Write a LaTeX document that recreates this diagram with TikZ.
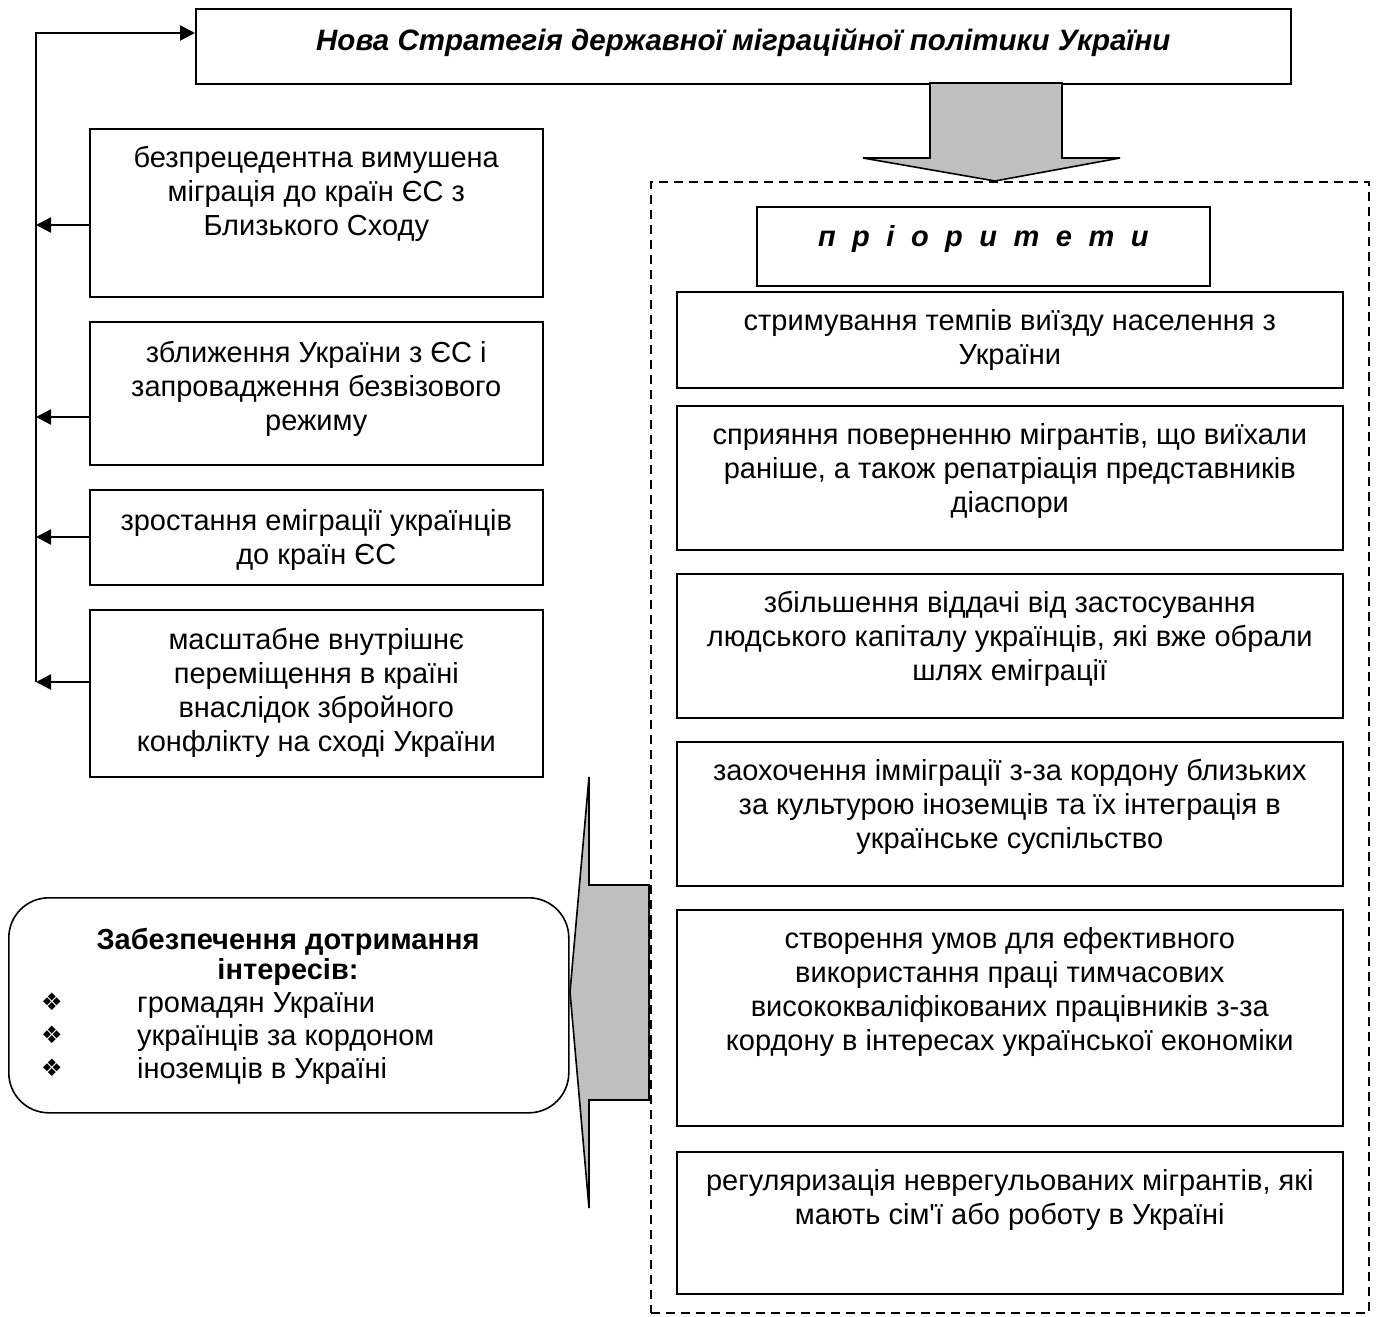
\documentclass[tikz,border=0pt]{standalone}
\usepackage{fontspec}
\setmainfont{Liberation Sans}[Ligatures=TeXOff]
\newfontfamily\symfont{DejaVu Sans}
\usetikzlibrary{arrows.meta}
\newcommand\mybx[4]{\parbox[t][#2][t]{#1}{\centering\rule{0pt}{#3}#4}}
\newcommand\spc{\hspace{16.5pt}}
\begin{document}
\begin{tikzpicture}[x=1pt,y=-1pt,
  box/.style={draw, line width=1.6pt, inner sep=0pt, anchor=north west, font=\fontsize{29}{34}\selectfont},
  arr/.style={line width=2.4pt, -{Triangle[length=15pt,width=15pt]}},
  fat/.style={draw, line width=1.6pt, fill=black!25, line join=miter},
  txt/.style={inner sep=0pt, font=\fontsize{29}{34}\selectfont},
  bul/.style={inner sep=0pt, font=\symfont\fontsize{24}{26}\selectfont},
]
\useasboundingbox (0,0) rectangle (1377,1317);

% top box
\node[box] (top) at (195,8) {\mybx{1095pt}{75pt}{42pt}{\fontsize{29.5}{34}\selectfont\textbf{\textit{Нова Стратегія державної міграційної політики України}}}};

% left boxes
\node[box] (l1) at (89,128) {\mybx{453pt}{168pt}{39pt}{безпрецедентна вимушена\\ міграція до країн ЄС з\\ Близького Сходу}};
\node[box] (l2) at (89,321) {\mybx{453pt}{143pt}{41pt}{зближення України з ЄС і\\ запровадження безвізового\\ режиму}};
\node[box] (l3) at (89,489) {\mybx{453pt}{95pt}{41pt}{зростання еміграції українців\\ до країн ЄС}};
\node[box] (l4) at (89,609) {\mybx{453pt}{167pt}{40pt}{масштабне внутрішнє\\ переміщення в країні\\ внаслідок збройного\\ конфлікту на сході України}};

% spine and arrows
\coordinate (spT) at (36,33);
\coordinate (a1) at (36,225);
\coordinate (a2) at (36,417);
\coordinate (a3) at (36,537);
\coordinate (a4) at (36,682);
\draw[arr] (a4) -- (spT) -- (spT -| top.west);
\draw[arr] (a1 -| l1.west) -- (a1);
\draw[arr] (a2 -| l2.west) -- (a2);
\draw[arr] (a3 -| l3.west) -- (a3);
\draw[arr] (a4 -| l4.west) -- (a4);

% dashed frame
\node[draw, dashed, dash pattern=on 9pt off 6pt, line width=1.5pt, inner sep=0pt, minimum width=718pt, minimum height=1131pt, anchor=north west] (frame) at (650,181) {};

% down fat arrow
\draw[fat] (930,83) -- (930,158) -- (863,158) -- (995,181) -- (1120,158) -- (1062,158) -- (1062,83) -- cycle;

% priorities
\node[box] (pr) at (756,206) {\mybx{453pt}{79pt}{40pt}{\textbf{\textit{п\spc р\spc і\spc о\spc р\spc и\spc т\spc е\spc т\spc и}}}};
\node[box] (r1) at (676,291) {\mybx{666pt}{96pt}{39pt}{стримування темпів виїзду населення з\\ України}};
\node[box] (r2) at (676,405) {\mybx{666pt}{144pt}{39pt}{сприяння поверненню мігрантів, що виїхали\\ раніше, а також репатріація представників\\ діаспори}};
\node[box] (r3) at (676,573) {\mybx{666pt}{144pt}{39pt}{збільшення віддачі від застосування\\ людського капіталу українців, які вже обрали\\ шлях еміграції}};
\node[box] (r4) at (676,741) {\mybx{666pt}{144pt}{39pt}{заохочення імміграції з-за кордону близьких\\ за культурою іноземців та їх інтеграція в\\ українське суспільство}};
\node[box] (r5) at (676,909) {\mybx{666pt}{216pt}{39pt}{створення умов для ефективного\\ використання праці тимчасових\\ висококваліфікованих працівників з-за\\ кордону в інтересах української економіки}};
\node[box] (r6) at (676,1151) {\mybx{666pt}{142pt}{39pt}{регуляризація неврегульованих мігрантів, які\\ мають сім'ї або роботу в Україні}};

% left fat arrow
\draw[fat] (649,885) -- (589,885) -- (589,777) -- (570,992) -- (589,1208) -- (589,1100) -- (649,1100) -- cycle;

% rounded goal box
\node[draw, line width=1.6pt, rounded corners=40pt, inner sep=0pt, minimum width=560pt, minimum height=215pt, anchor=north west] (goal) at (8,897) {};
\node[txt, anchor=base] (g1) at (288,949) {\textbf{Забезпечення дотримання}};
\node[txt, anchor=base] (g2) at (288,979) {\textbf{інтересів:}};
\node[bul] (b1) at (52,1002) {❖};
\node[bul] (b2) at (52,1035) {❖};
\node[bul] (b3) at (52,1068) {❖};
\node[txt, anchor=base west] (t1) at (137,1012) {громадян України};
\node[txt, anchor=base west] (t2) at (137,1045) {українців за кордоном};
\node[txt, anchor=base west] (t3) at (137,1078) {іноземців в Україні};
\end{tikzpicture}
\end{document}
